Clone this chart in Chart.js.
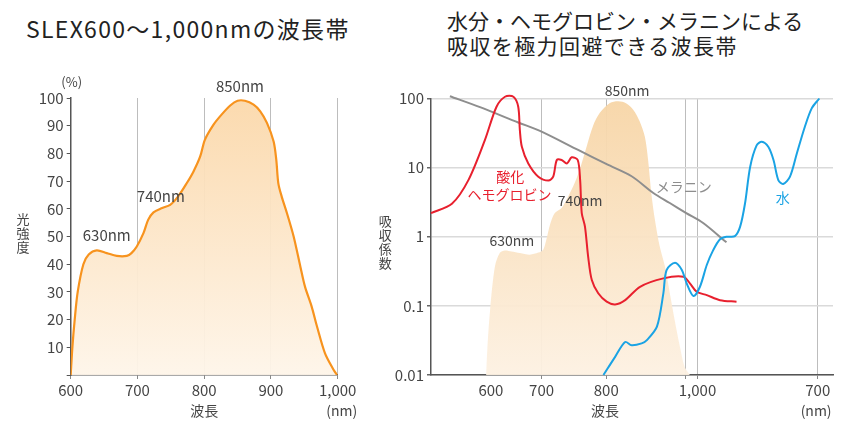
<!DOCTYPE html>
<html>
<head>
<meta charset="utf-8">
<script src="https://cdn.jsdelivr.net/npm/chart.js@4.4.1/dist/chart.umd.min.js"></script>
<style>
  html, body { margin: 0; padding: 0; background: #fff; }
  body { width: 843px; height: 423px; position: relative; overflow: hidden; font-family: 'Noto Sans CJK JP', sans-serif; }
  .title { position: absolute; color: #222; font-size: 21px; line-height: 25px; white-space: nowrap; }
  #leftWrap { position: absolute; left: 0; top: 0; }
  #rightWrap { position: absolute; left: 372px; top: 0; }
</style>
</head>
<body>
<div class="title" style="left:26px; top:16px; font-size:23px; letter-spacing:1.3px;">SLEX600〜1,000nmの波長帯</div>
<div class="title" style="left:447px; top:8px;">水分・ヘモグロビン・メラニンによる<br><span style="letter-spacing:1.4px;">吸収を極力回避できる波長帯</span></div>
<div id="leftWrap"><canvas id="leftChart" width="390" height="423"></canvas></div>
<div id="rightWrap"><canvas id="rightChart" width="471" height="423"></canvas></div>
<script>
const FONT = "'Noto Sans CJK JP', sans-serif";

// ── left chart: SLEX spectrum (nm / %) ──
const slexNm = [600, 602.5, 606, 610.5, 619, 627, 639, 654, 669, 684, 691, 699, 709, 716, 724, 736, 749, 761, 774, 784,
  794, 801, 814, 826, 839, 850, 861, 874, 884, 894, 904, 908, 911, 916, 924, 934, 944, 951, 961, 969, 981, 994, 999];
const slexPct = [0, 10, 20, 30, 40, 43.5, 45, 44, 43, 43, 44, 46.4, 51.2, 56, 58.7, 60.2, 61.4, 64.5, 69.3, 73.5,
  78.9, 84.9, 90.4, 94, 97.3, 99, 99, 97.6, 95.2, 91, 84.3, 77.7, 69.3, 64.5, 58.4, 50, 39.2, 31.9, 24.7, 17.5, 7.8, 1.8, 0];
const leftXTicks = [600, 700, 800, 900, 1000];
const leftXLabels = ['600', '700', '800', '900', '1,000'];

// ── right chart: absorption (axis position 0-100 / coefficient, log) ──
const sensPos = [13.7, 14.0, 14.7, 15.9, 17.1, 18.4, 20.0, 22.1, 24.6, 26.7, 27.9, 28.7, 29.6, 30.8, 32.5, 34.1, 35.4, 37.0,
  38.7, 40.3, 42.0, 44.5, 46.6, 48.6, 50.3, 51.9, 53.2, 54.0, 54.8, 55.7, 56.9, 58.2, 59.4, 60.6, 61.9, 63.1, 64.4];
const sensVal = [0.01, 0.023, 0.0875, 0.37, 0.58, 0.63, 0.61, 0.58, 0.55, 0.59, 0.65, 0.91, 1.49, 2.2, 2.6, 3.8, 5.4, 9.4,
  20, 40, 62, 86, 91, 85, 69, 47, 28, 13, 4.3, 1.76, 0.72, 0.37, 0.153, 0.063, 0.026, 0.013, 0.01];

const hbPos = [0, 5.2, 9.3, 13.4, 16.3, 18.4, 20.5, 21.7, 22.1, 22.6, 24.2, 26.7, 29.2, 30.4, 31.3, 32.5, 33.8, 35.0, 36.5,
  37.1, 37.5, 38.3, 39.1, 40.0, 41.6, 43.7, 45.8, 48.3, 52.0, 57.8, 62.8, 64.4, 66.1, 68.6, 71.9, 76.0];
const hbVal = [2.2, 3.0, 6.6, 25, 76, 106, 106, 76, 35, 20, 11.5, 7.4, 6.5, 7.4, 12.9, 12.9, 11.5, 14.1, 12.9,
  6.6, 2.2, 1.4, 0.51, 0.236, 0.152, 0.115, 0.105, 0.121, 0.189, 0.25, 0.264, 0.212, 0.16, 0.143, 0.121, 0.115];

const melPos = [4.7, 12.2, 21.7, 27.1, 36.6, 43.7, 49.9, 55.3, 59.4, 63.5, 67.7, 73.5];
const melVal = [108, 75, 45, 34, 18, 11.2, 7.5, 4.3, 3.08, 2.2, 1.58, 0.83];

const waterPos = [42.9, 45.8, 48.3, 49.9, 52.4, 53.7, 56.2, 57.8, 58.6, 60.7, 62.4, 63.6, 65.3, 66.9, 68.6, 70.2, 71.9,
  73.5, 75.6, 76.9, 78.1, 79.4, 81.0, 82.3, 83.9, 85.2, 86.4, 87.6, 89.3, 91.0, 93.0, 94.7, 96.6];
const waterVal = [0.01, 0.0183, 0.030, 0.027, 0.0287, 0.032, 0.050, 0.152, 0.33, 0.42, 0.33, 0.212, 0.139, 0.189, 0.39,
  0.64, 0.92, 1.0, 1.02, 1.4, 3.0, 10.3, 21, 23.7, 20, 12.9, 6.6, 5.8, 7.4, 16, 39, 72, 100];

const rightXTicks = [14.9, 27.5, 43.6, 63.4, 66.3, 96.2];
const rightXLabels = ['600', '700', '800', '', '1,000', '700'];
const rightYTicks = [0.01, 0.1, 1, 10, 100];
const rightYLabels = ['0.01', '0.1', '1', '10', '100'];

function toPoints(xs, ys) {
  return xs.map((x, i) => ({ x: x, y: ys[i] }));
}

function makeTextPlugin(items) {
  return {
    id: 'texts',
    afterDatasetsDraw(chart) {
      const ctx = chart.ctx;
      const xs = chart.scales.x;
      const ys = chart.scales.y;
      items.forEach(it => {
        ctx.save();
        ctx.font = `${it.size || 14}px ${FONT}`;
        ctx.fillStyle = it.color || '#444';
        ctx.textAlign = 'center';
        ctx.textBaseline = 'middle';
        const px = xs.getPixelForValue(it.x);
        const py = ys.getPixelForValue(it.y);
        if (it.vertical) {
          const chars = Array.from(it.text);
          const lh = it.size + 1;
          const top = py - (chars.length - 1) * lh / 2;
          chars.forEach((c, i) => ctx.fillText(c, px, top + i * lh));
        } else {
          ctx.fillText(it.text, px, py);
        }
        ctx.restore();
      });
    },
  };
}

function verticalFill(top, bottom) {
  return function(context) {
    const area = context.chart.chartArea;
    if (!area) return top;
    const g = context.chart.ctx.createLinearGradient(0, area.top, 0, area.bottom);
    g.addColorStop(0, top);
    g.addColorStop(1, bottom);
    return g;
  };
}

const tickFont = { family: FONT, size: 15 };

// ── left chart ──
new Chart(document.getElementById('leftChart'), {
  type: 'line',
  data: {
    datasets: [{
      data: toPoints(slexNm, slexPct),
      borderColor: '#f7931e',
      borderWidth: 2.2,
      backgroundColor: verticalFill('rgba(251, 216, 170, 0.95)', 'rgba(254, 245, 233, 0.95)'),
      fill: 'start',
      pointRadius: 0,
      tension: 0.3,
    }],
  },
  options: {
    responsive: false,
    animation: false,
    layout: { padding: { left: 0, top: 98, right: 52.3, bottom: 0 } },
    plugins: { legend: { display: false }, tooltip: { enabled: false } },
    scales: {
      x: {
        type: 'linear',
        min: 600,
        max: 1000,
        afterBuildTicks: s => { s.ticks = leftXTicks.map(v => ({ value: v })); },
        afterFit: s => { s.height = 48; },
        ticks: {
          color: '#444',
          font: tickFont,
          padding: 2,
          maxRotation: 0,
          callback: (v, i) => leftXLabels[i],
        },
        grid: {
          color: c => (c.tick && c.tick.value === 600 ? 'rgba(0,0,0,0)' : '#bdbdbd'),
          borderDash: [1.5, 3],
          tickLength: 4,
          tickColor: '#888',
        },
        border: { color: '#555', width: 1.5 },
      },
      y: {
        min: 0,
        max: 100,
        afterFit: s => { s.width = 70.7; },
        ticks: {
          stepSize: 10,
          color: '#444',
          font: tickFont,
          padding: 3,
          callback: v => (v === 0 ? '' : v),
        },
        grid: { drawOnChartArea: false, tickLength: 4, color: '#555' },
        border: { color: '#555', width: 1.5 },
      },
    },
  },
  plugins: [makeTextPlugin([
    { text: '(%)', x: 601.5, y: 105.7, size: 13 },
    { text: '850nm', x: 853.6, y: 104.1, size: 15 },
    { text: '740nm', x: 735, y: 64.4, size: 15 },
    { text: '630nm', x: 654, y: 50.3, size: 15 },
    { text: '光強度', x: 528.5, y: 51.3, size: 13, vertical: true },
    { text: '波長', x: 800, y: -12.9, size: 14 },
    { text: '(nm)', x: 1006, y: -12.9, size: 14 },
  ])],
});

// ── right chart ──
new Chart(document.getElementById('rightChart'), {
  type: 'line',
  data: {
    datasets: [
      {
        data: toPoints(sensPos, sensVal),
        borderWidth: 0,
        borderColor: 'rgba(0,0,0,0)',
        backgroundColor: verticalFill('rgba(247, 213, 166, 0.95)', 'rgba(253, 241, 226, 0.95)'),
        fill: 'start',
        pointRadius: 0,
        tension: 0.3,
        order: 4,
      },
      {
        data: toPoints(melPos, melVal),
        borderColor: '#8e8e8e',
        borderWidth: 2,
        fill: false,
        pointRadius: 0,
        tension: 0.3,
        clip: false,
        order: 3,
      },
      {
        data: toPoints(hbPos, hbVal),
        borderColor: '#e8202e',
        borderWidth: 2,
        fill: false,
        pointRadius: 0,
        tension: 0.3,
        clip: false,
        order: 2,
      },
      {
        data: toPoints(waterPos, waterVal),
        borderColor: '#1aa3e4',
        borderWidth: 2,
        fill: false,
        pointRadius: 0,
        tension: 0.3,
        clip: false,
        order: 1,
      },
    ],
  },
  options: {
    responsive: false,
    animation: false,
    layout: { padding: { left: 0, top: 98.5, right: 10, bottom: 0 } },
    plugins: { legend: { display: false }, tooltip: { enabled: false } },
    scales: {
      x: {
        type: 'linear',
        min: 0,
        max: 100,
        afterBuildTicks: s => { s.ticks = rightXTicks.map(v => ({ value: v })); },
        afterFit: s => { s.height = 48; },
        ticks: {
          color: '#444',
          font: tickFont,
          padding: 2,
          maxRotation: 0,
          autoSkip: false,
          callback: (v, i) => rightXLabels[i],
        },
        grid: {
          color: c => (c.index === 0 ? 'rgba(0,0,0,0)' : '#bdbdbd'),
          tickColor: c => (c.index === 0 ? 'rgba(0,0,0,0)' : '#888'),
          borderDash: [1.5, 3],
          tickLength: 4,
        },
        border: { color: '#555', width: 1.5 },
      },
      y: {
        type: 'logarithmic',
        min: 0.01,
        max: 100,
        afterBuildTicks: s => { s.ticks = rightYTicks.map(v => ({ value: v })); },
        afterFit: s => { s.width = 59; },
        ticks: {
          color: '#444',
          font: tickFont,
          padding: 3,
          callback: (v, i) => rightYLabels[i],
        },
        grid: { color: '#dadada', lineWidth: 1.5, tickLength: 4, tickColor: '#666' },
        border: { color: '#555', width: 1.5 },
      },
    },
  },
  plugins: [makeTextPlugin([
    { text: '850nm', x: 48.8, y: 128, size: 14 },
    { text: '740nm', x: 37.1, y: 3.32, size: 14 },
    { text: '630nm', x: 20.1, y: 0.875, size: 14 },
    { text: '酸化', x: 19.7, y: 7.3, size: 14, color: '#e8202e' },
    { text: 'ヘモグロビン', x: 19.5, y: 4.0, size: 14, color: '#e8202e' },
    { text: 'メラニン', x: 62.9, y: 5.3, size: 14, color: '#8e8e8e' },
    { text: '水', x: 87.5, y: 3.7, size: 14, color: '#1aa3e4' },
    { text: '吸収係数', x: -11.4, y: 0.84, size: 13, vertical: true },
    { text: '波長', x: 43.3, y: 0.003, size: 14 },
    { text: '(nm)', x: 95.8, y: 0.003, size: 14 },
  ])],
});
</script>
</body>
</html>
